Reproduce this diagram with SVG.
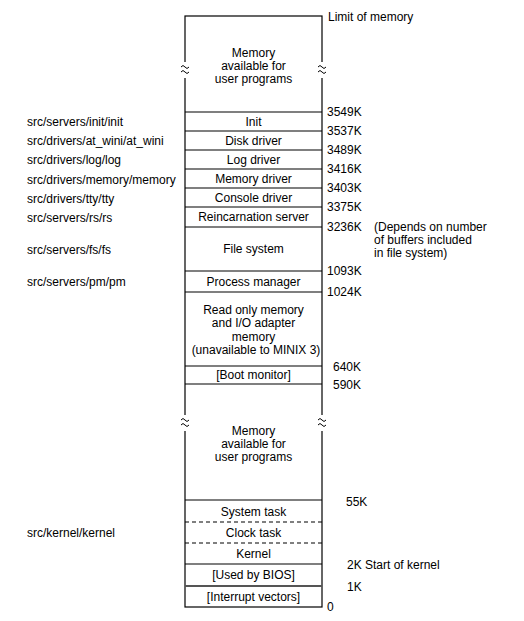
<svg xmlns="http://www.w3.org/2000/svg" width="524" height="621" viewBox="0 0 524 621">
<style>
text{font-family:"Liberation Sans",Arial,sans-serif;font-size:12px;fill:#000}
.c{text-anchor:middle}
.ln{stroke:#000;stroke-width:1.2;fill:none}
.d{stroke:#000;stroke-width:1.2;stroke-dasharray:4 3;fill:none}
.w{stroke:#000;stroke-width:1;fill:none}
</style>
<rect width="524" height="621" fill="#fff"/>
<g id="memory-column">
<rect x="185" y="16" width="137" height="591" class="ln"/>
</g>
<g id="breaks">
<rect x="181" y="62" width="8" height="16" fill="#fff"/>
<rect x="318" y="62" width="8" height="16" fill="#fff"/>
<rect x="181" y="415" width="8" height="16" fill="#fff"/>
<rect x="318" y="415" width="8" height="16" fill="#fff"/>
<path class="w" d="M181,67 q2,-3 4,0 t4,0 M181,72 q2,-3 4,0 t4,0"/>
<path class="w" d="M318,67 q2,-3 4,0 t4,0 M318,72 q2,-3 4,0 t4,0"/>
<path class="w" d="M181,420 q2,-3 4,0 t4,0 M181,425 q2,-3 4,0 t4,0"/>
<path class="w" d="M318,420 q2,-3 4,0 t4,0 M318,425 q2,-3 4,0 t4,0"/>
</g>
<g id="user-top">
<text class="c" x="253.5" y="57">Memory</text>
<text class="c" x="253.5" y="70">available for</text>
<text class="c" x="253.5" y="83">user programs</text>
</g>
<g id="init"><line class="ln" x1="185" y1="112" x2="322" y2="112"/><text class="c" x="253.5" y="126">Init</text></g>
<g id="disk"><line class="ln" x1="185" y1="131" x2="322" y2="131"/><text class="c" x="253.5" y="145">Disk driver</text></g>
<g id="log"><line class="ln" x1="185" y1="150" x2="322" y2="150"/><text class="c" x="253.5" y="164">Log driver</text></g>
<g id="memdrv"><line class="ln" x1="185" y1="169" x2="322" y2="169"/><text class="c" x="253.5" y="183">Memory driver</text></g>
<g id="console"><line class="ln" x1="185" y1="188" x2="322" y2="188"/><text class="c" x="253.5" y="202">Console driver</text></g>
<g id="reinc"><line class="ln" x1="185" y1="207" x2="322" y2="207"/><text class="c" x="253.5" y="221">Reincarnation server</text></g>
<g id="fs"><line class="ln" x1="185" y1="227" x2="322" y2="227"/><text class="c" x="253.5" y="253">File system</text></g>
<g id="pm"><line class="ln" x1="185" y1="271" x2="322" y2="271"/><text class="c" x="253.5" y="286">Process manager</text></g>
<g id="rom"><line class="ln" x1="185" y1="292" x2="322" y2="292"/>
<text class="c" x="253.5" y="314">Read only memory</text>
<text class="c" x="253.5" y="327">and I/O adapter</text>
<text class="c" x="253.5" y="341">memory</text>
<text class="c" x="256" y="354">(unavailable to MINIX 3)</text></g>
<g id="boot"><line class="ln" x1="185" y1="366" x2="322" y2="366"/><text class="c" x="253.5" y="379">[Boot monitor]</text></g>
<g id="user-low"><line class="ln" x1="185" y1="384" x2="322" y2="384"/>
<text class="c" x="253.5" y="435">Memory</text>
<text class="c" x="253.5" y="448">available for</text>
<text class="c" x="253.5" y="461">user programs</text></g>
<g id="system"><line class="ln" x1="185" y1="500" x2="322" y2="500"/><text class="c" x="253.5" y="516">System task</text></g>
<g id="clock"><line class="d" x1="185" y1="522" x2="322" y2="522"/><text class="c" x="253.5" y="537">Clock task</text></g>
<g id="kernel"><line class="d" x1="185" y1="543" x2="322" y2="543"/><text class="c" x="253.5" y="558">Kernel</text></g>
<g id="bios"><line class="ln" x1="185" y1="564" x2="322" y2="564"/><text class="c" x="253.5" y="579">[Used by BIOS]</text></g>
<g id="ivec"><line x1="185" y1="586" x2="322" y2="586" stroke="#555" stroke-width="1.8"/><text class="c" x="253.5" y="601">[Interrupt vectors]</text></g>
<g id="addresses">
<text x="328" y="21">Limit of memory</text>
<text x="327" y="116">3549K</text>
<text x="327" y="135">3537K</text>
<text x="327" y="154">3489K</text>
<text x="327" y="173">3416K</text>
<text x="327" y="192">3403K</text>
<text x="327" y="211">3375K</text>
<text x="327" y="231">3236K</text>
<text x="374" y="231">(Depends on number</text>
<text x="374" y="244">of buffers included</text>
<text x="374" y="257">in file system)</text>
<text x="327" y="275">1093K</text>
<text x="327" y="296">1024K</text>
<text x="333" y="371">640K</text>
<text x="333" y="389">590K</text>
<text x="346" y="506">55K</text>
<text x="347" y="569">2K Start of kernel</text>
<text x="347" y="591">1K</text>
<text x="327" y="611">0</text>
</g>
<g id="paths">
<text x="27" y="126">src/servers/init/init</text>
<text x="27" y="145">src/drivers/at_wini/at_wini</text>
<text x="27" y="164">src/drivers/log/log</text>
<text x="27" y="184">src/drivers/memory/memory</text>
<text x="27" y="203">src/drivers/tty/tty</text>
<text x="27" y="222">src/servers/rs/rs</text>
<text x="27" y="254">src/servers/fs/fs</text>
<text x="27" y="286">src/servers/pm/pm</text>
<text x="27" y="537">src/kernel/kernel</text>
</g>
</svg>
